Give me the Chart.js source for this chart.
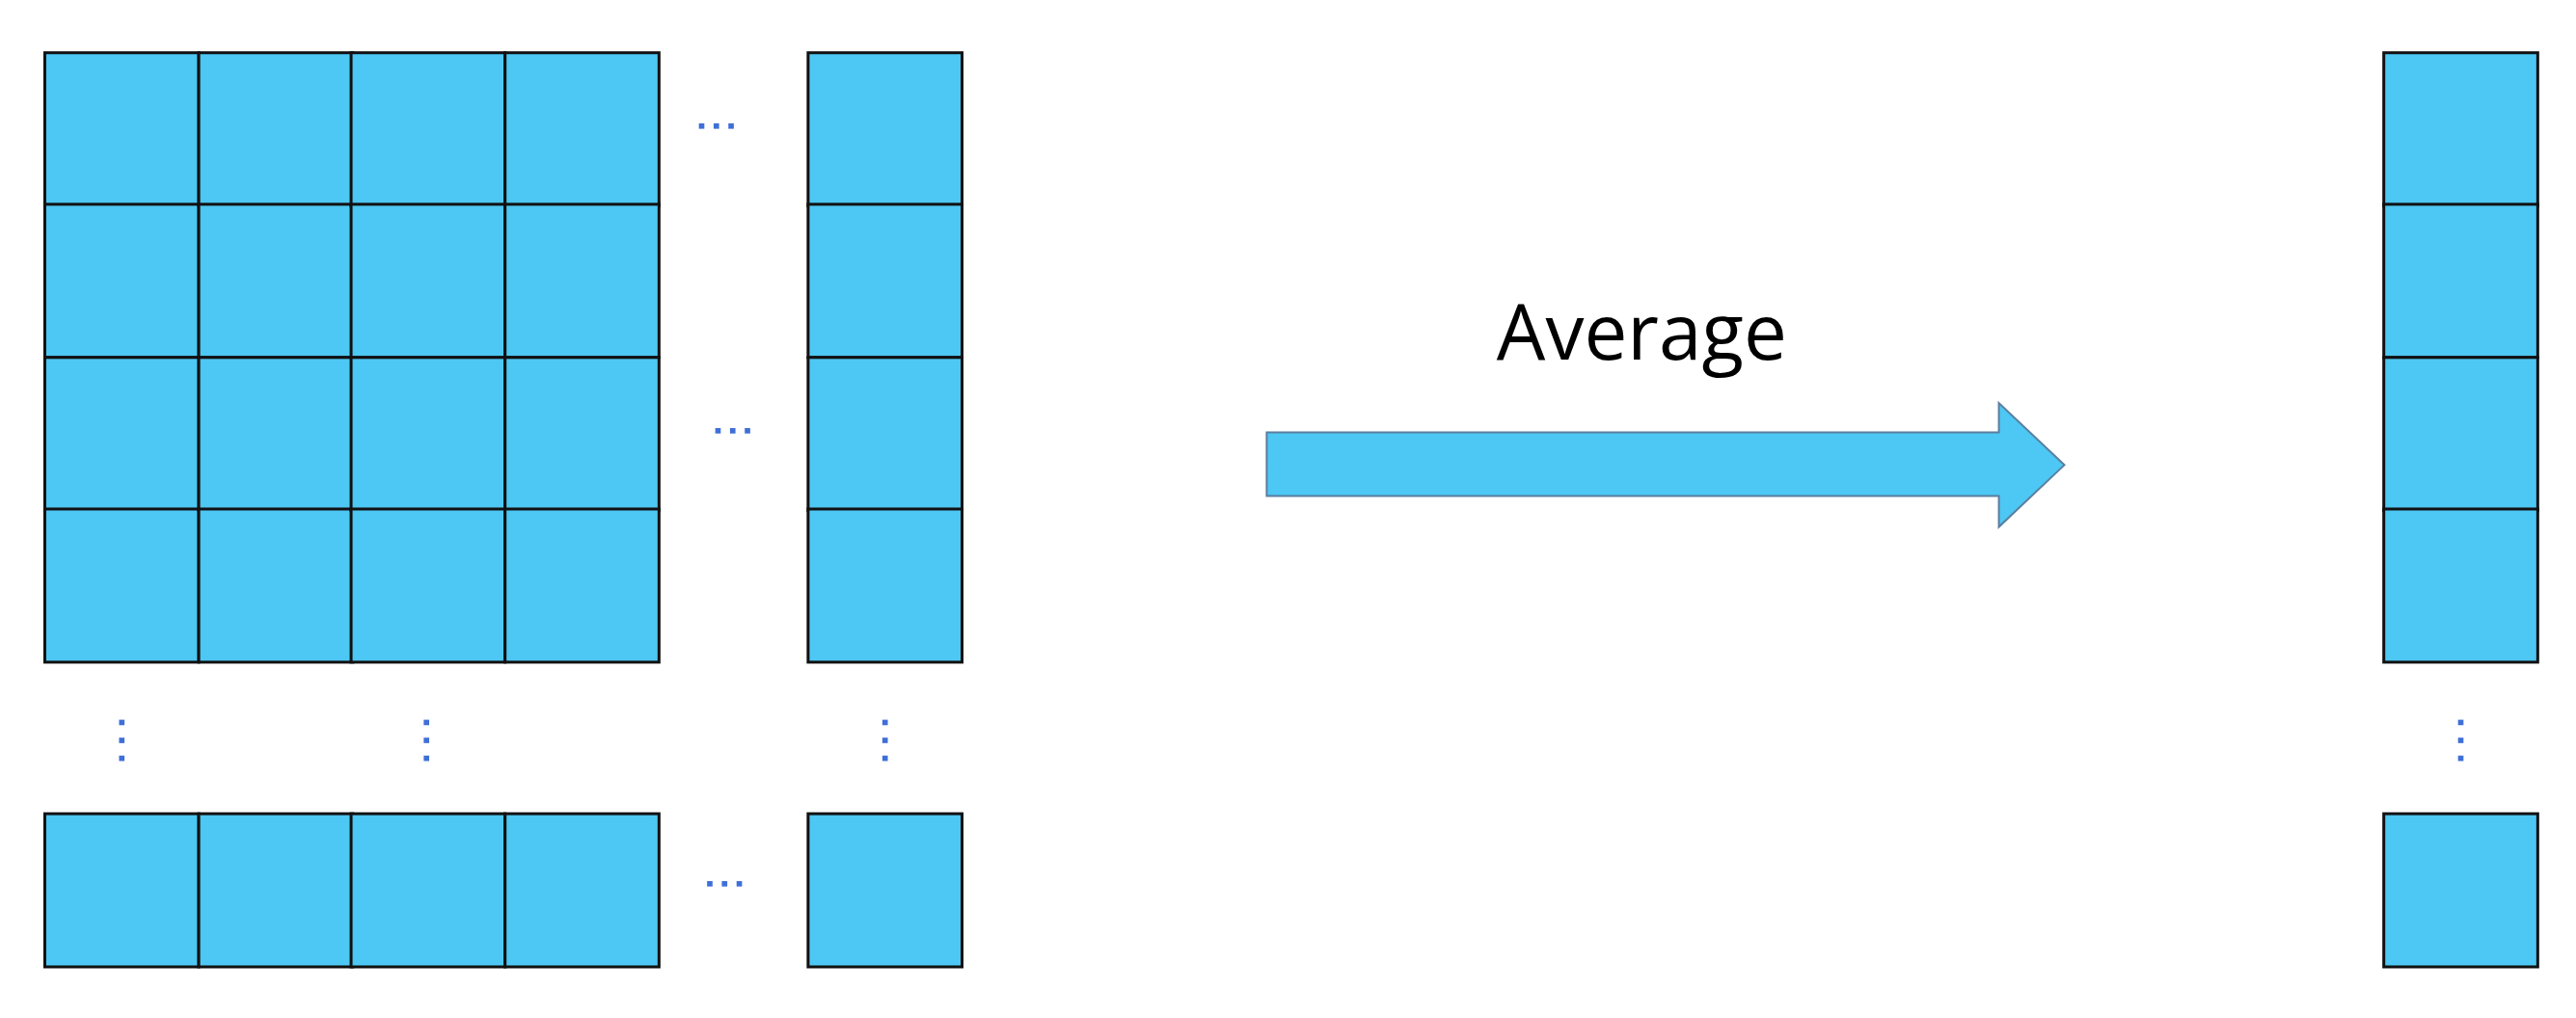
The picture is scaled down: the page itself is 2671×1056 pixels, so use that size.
<!DOCTYPE html>
<html>
<head>
<meta charset="utf-8">
<script src="https://cdn.jsdelivr.net/npm/chart.js@4"></script>
<style>
  html, body { margin: 0; padding: 0; background: #fff; }
  canvas { display: block; }
</style>
</head>
<body>
<canvas id="diagram" width="2671" height="1056"></canvas>
<script>
// diagram space: 1568 x 620 units (reference at reduced scale)
const gridCols = [25, 119, 212, 306];        // left edges of the 4 shown columns
const lastCol = [491];                       // the "n-th" column
const gridRows = [30, 123, 217, 310];        // top edges of the 4 shown rows
const lastRow = [497];                       // the "m-th" row
const resultCol = [1453];                    // averaged column
const cellSize = 94;

const hDots = [[435, 75], [445, 262], [440, 540]];
const vDots = [[72, 452], [258, 452], [538, 452], [1500, 452]];
const arrowLabel = 'Average';

function cells() {
    const out = [];
    const cols = gridCols.concat(lastCol);
    const rows = gridRows.concat(lastRow);
    cols.forEach(x => rows.forEach(y => out.push([x, y])));
    rows.forEach(y => out.push([resultCol[0], y]));
    return out;
}

function dotPoints() {
    const pts = [];
    hDots.forEach(([x, y]) => [-9, 0, 9].forEach(d => pts.push({ x: x + d, y })));
    vDots.forEach(([x, y]) => [-11, 0, 11].forEach(d => pts.push({ x, y: y + d })));
    return pts;
}

const diagramPlugin = {
    id: 'diagram',
    beforeDatasetsDraw(chart) {
        const { ctx, scales: { x, y } } = chart;
        ctx.save();
        // cells
        ctx.fillStyle = '#4DC7F3';
        ctx.strokeStyle = '#111';
        ctx.lineWidth = 3;
        cells().forEach(([cx, cy]) => {
            const x0 = x.getPixelForValue(cx), y0 = y.getPixelForValue(cy);
            const x1 = x.getPixelForValue(cx + cellSize), y1 = y.getPixelForValue(cy + cellSize);
            ctx.fillRect(x0, y0, x1 - x0, y1 - y0);
            ctx.strokeRect(x0, y0, x1 - x0, y1 - y0);
        });
        // arrow
        const poly = [[771, 263], [1218, 263], [1218, 245], [1258, 283], [1218, 321], [1218, 302], [771, 302]];
        ctx.beginPath();
        poly.forEach(([px, py], i) => {
            const X = x.getPixelForValue(px), Y = y.getPixelForValue(py);
            i ? ctx.lineTo(X, Y) : ctx.moveTo(X, Y);
        });
        ctx.closePath();
        ctx.fill();
        ctx.strokeStyle = '#5a7fa0';
        ctx.lineWidth = 2;
        ctx.stroke();
        // label
        ctx.fillStyle = '#000';
        ctx.font = '80px "Open Sans", sans-serif';
        ctx.textAlign = 'center';
        ctx.textBaseline = 'middle';
        ctx.fillText(arrowLabel, x.getPixelForValue(1000), y.getPixelForValue(205));
        ctx.restore();
    }
};

new Chart(document.getElementById('diagram'), {
    type: 'scatter',
    data: {
        datasets: [{
            data: dotPoints(),
            pointStyle: 'rect',
            pointRadius: 4,
            backgroundColor: '#3F6FD8',
            borderWidth: 0
        }]
    },
    options: {
        responsive: false,
        animation: false,
        devicePixelRatio: 1,
        layout: { padding: 0 },
        plugins: { legend: { display: false }, tooltip: { enabled: false } },
        scales: {
            x: { type: 'linear', min: 0, max: 1568, display: false },
            y: { type: 'linear', min: 0, max: 620, reverse: true, display: false }
        }
    },
    plugins: [diagramPlugin]
});
</script>
</body>
</html>
